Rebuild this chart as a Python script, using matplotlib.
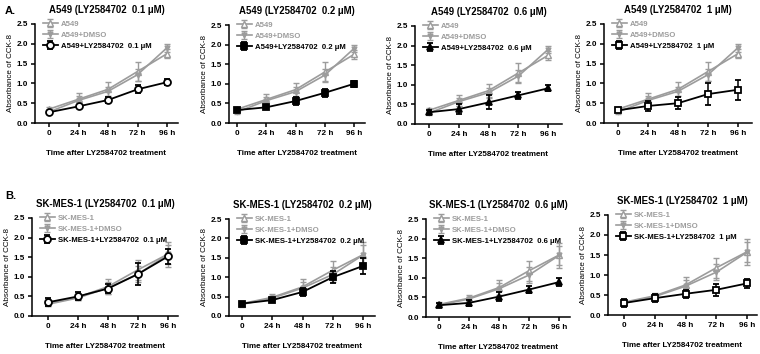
import matplotlib
matplotlib.use("Agg")
import matplotlib.pyplot as plt
import numpy as np

plt.rcParams['font.family'] = ['Liberation Sans', 'DejaVu Sans']

times = ["0", "24 h", "48 h", "72 h", "96 h"]
x_label = "Time after LY2584702 treatment"
y_label = "Absorbance of CCK-8"

# Row A: A549
a549_ctrl = [0.35, 0.60, 0.85, 1.30, 1.75]
a549_ctrl_err = [0.05, 0.15, 0.18, 0.25, 0.12]
a549_dmso = [0.28, 0.57, 0.80, 1.22, 1.90]
a549_dmso_err = [0.05, 0.10, 0.12, 0.15, 0.10]
a549_doses = ["0.1", "0.2", "0.6", "1"]
a549_treat = [
    [0.27, 0.42, 0.58, 0.85, 1.03],
    [0.33, 0.40, 0.56, 0.77, 1.00],
    [0.30, 0.38, 0.55, 0.73, 0.91],
    [0.32, 0.43, 0.50, 0.73, 0.84],
]
a549_treat_err = [
    [0.03, 0.04, 0.07, 0.10, 0.08],
    [0.05, 0.05, 0.10, 0.10, 0.08],
    [0.05, 0.12, 0.18, 0.08, 0.08],
    [0.05, 0.12, 0.15, 0.28, 0.25],
]

# Row B: SK-MES-1
skm_ctrl = [0.32, 0.48, 0.75, 1.18, 1.58]
skm_ctrl_err = [0.05, 0.08, 0.20, 0.25, 0.32]
skm_dmso = [0.30, 0.46, 0.72, 1.07, 1.57]
skm_dmso_err = [0.05, 0.06, 0.15, 0.20, 0.25]
skm_doses = ["0.1", "0.2", "0.6", "1"]
skm_treat = [
    [0.35, 0.50, 0.70, 1.07, 1.52],
    [0.32, 0.41, 0.62, 1.00, 1.29],
    [0.30, 0.36, 0.52, 0.70, 0.89],
    [0.30, 0.42, 0.53, 0.63, 0.79],
]
skm_treat_err = [
    [0.10, 0.10, 0.12, 0.28, 0.20],
    [0.05, 0.04, 0.10, 0.15, 0.20],
    [0.05, 0.07, 0.12, 0.10, 0.10],
    [0.10, 0.10, 0.10, 0.15, 0.12],
]

treat_markers = [dict(marker='o', mfc='white'), dict(marker='s', mfc='black'),
                 dict(marker='^', mfc='black'), dict(marker='s', mfc='white')]
treat_ms = [5, 4.2, 3.8, 5]

W, H = 760, 354
fig = plt.figure(figsize=(W / 100, H / 100), dpi=100)

# pixel layout: (axis left, axis right, top, bottom, x of tick 0, x of tick 96h)
layoutA = [(35, 178, 24, 123, 49, 167), (229, 365, 25, 123, 237, 354),
           (415, 562, 26, 124, 429, 548), (604, 752, 24, 123, 618, 738)]
layoutB = [(32, 178, 218, 316, 48, 168), (229, 375, 219, 316, 242, 363),
           (426, 570, 219, 317, 439, 559), (608, 757, 215, 315, 624, 747)]

GRAY = '#9c9c9c'


def panel(lay, cell, dose, ctrl, ctrl_e, dmso, dmso_e, tr, tr_e, mk, ms):
    l, r, t, b, x0, x4 = lay
    ax = fig.add_axes([l / W, 1 - b / H, (r - l) / W, (b - t) / H])
    sp = (x4 - x0) / 4
    ax.set_xlim(-(x0 - l) / sp, (r - x0) / sp)
    ax.set_ylim(0, 2.5)
    x = np.arange(len(times))
    ax.errorbar(x, ctrl, yerr=ctrl_e, color=GRAY, marker='^', mfc='white', mec=GRAY,
                ms=4, lw=1.2, capsize=2.5, elinewidth=1, capthick=1,
                label=cell, zorder=2)
    ax.errorbar(x, dmso, yerr=dmso_e, color=GRAY, marker='v', mfc=GRAY, mec=GRAY,
                ms=3.5, lw=1.2, capsize=2.5, elinewidth=1, capthick=1,
                label=cell + "+DMSO", zorder=2)
    ax.errorbar(x, tr, yerr=tr_e, color='black', mec='black', ms=ms, mew=1.3,
                lw=1.3, capsize=2.5, elinewidth=1.1, capthick=1.1,
                label=f"{cell}+LY2584702  {dose} μM", zorder=3, **mk)
    ax.set_xticks(x)
    ax.set_xticklabels(times)
    ax.set_yticks([0, 0.5, 1.0, 1.5, 2.0, 2.5])
    ax.set_yticklabels(["0.0", "0.5", "1.0", "1.5", "2.0", "2.5"])
    for s in ['top', 'right']:
        ax.spines[s].set_visible(False)
    for s in ['left', 'bottom']:
        ax.spines[s].set_linewidth(1.1)
    ax.tick_params(direction='out', length=3, width=1.1, labelsize=5.9, pad=2)
    for lbl in ax.get_xticklabels() + ax.get_yticklabels():
        lbl.set_fontweight('bold')
    ax.set_ylabel(y_label, fontsize=5.8, labelpad=2)
    ax.set_xlabel(x_label, fontsize=5.8, fontweight='bold', labelpad=9.5)
    ax.set_title(f"{cell} (LY2584702  {dose} μM)", fontsize=6.9, fontweight='bold', pad=8)
    fs = 5.6
    leg = ax.legend(loc='upper left', bbox_to_anchor=(5 / (r - l), 1 + 7 / (b - t)),
                    frameon=False, fontsize=fs, handlelength=1.85, handletextpad=0.45,
                    labelspacing=0.48, borderaxespad=0.0, borderpad=0.4)
    cols = [GRAY, GRAY, 'black']
    for txt, c in zip(leg.get_texts(), cols):
        txt.set_color(c)
        txt.set_fontweight('bold')
    return ax


for i in range(4):
    panel(layoutA[i], "A549", a549_doses[i], a549_ctrl, a549_ctrl_err, a549_dmso,
          a549_dmso_err, a549_treat[i], a549_treat_err[i], treat_markers[i], treat_ms[i])
    panel(layoutB[i], "SK-MES-1", skm_doses[i], skm_ctrl, skm_ctrl_err, skm_dmso,
          skm_dmso_err, skm_treat[i], skm_treat_err[i], treat_markers[i], treat_ms[i])

fig.text(5 / W, 1 - 11 / H, "A.", fontsize=8, fontweight='bold', va='center')
fig.text(5 / W, 1 - 196 / H, "B.", fontsize=8, fontweight='bold', va='center')

fig.savefig("out.png", dpi=100)
